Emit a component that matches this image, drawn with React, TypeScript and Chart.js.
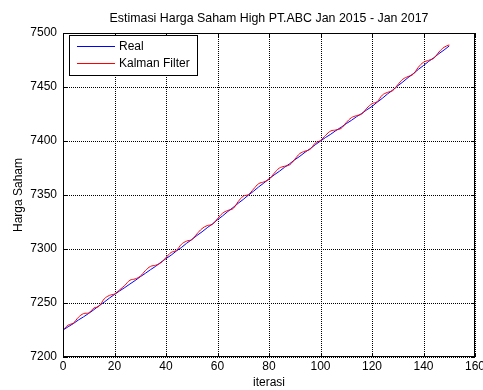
import React, { useEffect, useRef } from "react";
import { Chart, registerables } from "chart.js";

Chart.register(...registerables);

const chartTitle = "Estimasi Harga Saham High PT.ABC Jan 2015 - Jan 2017";
const xTitle = "iterasi";
const yTitle = "Harga Saham";
const seriesNames = ["Real", "Kalman Filter"];
const seriesColors = ["#0000ff", "#ff0000"];

const iterations = [
  0, 2, 4, 6, 8, 10, 12, 14, 16, 18, 20, 22, 24, 26, 28, 30, 32, 34, 36, 38,
  40, 42, 44, 46, 48, 50, 52, 54, 56, 58, 60, 62, 64, 66, 68, 70, 72, 74, 76, 78,
  80, 82, 84, 86, 88, 90, 92, 94, 96, 98, 100, 102, 104, 106, 108, 110, 112, 114, 116, 118,
  120, 122, 124, 126, 128, 130, 132, 134, 136, 138, 140, 142, 144, 146, 148, 150,
];

const realValues = [
  7225.0, 7228.0, 7230.9, 7234.3, 7237.2, 7240.4, 7243.8, 7247.5, 7250.8, 7254.5,
  7257.9, 7261.2, 7264.3, 7267.6, 7270.8, 7274.3, 7277.5, 7280.9, 7284.0, 7287.7,
  7291.1, 7294.3, 7298.1, 7301.4, 7305.3, 7308.7, 7312.5, 7315.9, 7319.7, 7323.2,
  7327.1, 7330.7, 7334.7, 7338.3, 7342.3, 7345.9, 7349.9, 7353.5, 7357.5, 7361.1,
  7365.0, 7368.6, 7371.9, 7375.6, 7378.9, 7382.6, 7385.9, 7389.6, 7392.9, 7396.6,
  7400.0, 7403.3, 7406.3, 7409.7, 7412.7, 7416.1, 7419.1, 7422.5, 7425.5, 7428.9,
  7432.0, 7435.9, 7439.5, 7443.5, 7447.1, 7451.1, 7454.7, 7458.7, 7462.3, 7466.3,
  7469.9, 7473.7, 7477.1, 7480.9, 7484.3, 7488.0,
];

const kalmanValues = [
  7225.0, 7229.5, 7231.4, 7236.8, 7240.2, 7240.9, 7245.3, 7247.0, 7253.8, 7257.0,
  7258.4, 7262.2, 7266.3, 7271.1, 7272.3, 7274.8, 7280.0, 7283.9, 7285.0, 7287.2,
  7292.1, 7296.8, 7298.6, 7304.4, 7307.3, 7308.7, 7314.0, 7318.9, 7321.7, 7322.7,
  7328.1, 7333.2, 7335.7, 7337.3, 7343.8, 7348.9, 7350.4, 7355.5, 7360.5, 7362.1,
  7364.5, 7370.1, 7374.9, 7376.6, 7377.9, 7383.1, 7388.4, 7390.6, 7392.4, 7398.1,
  7400.5, 7405.3, 7409.3, 7410.2, 7411.7, 7417.1, 7421.6, 7423.5, 7425.0, 7430.4,
  7434.5, 7436.4, 7442.5, 7445.0, 7446.6, 7452.1, 7457.2, 7459.7, 7461.8, 7468.3,
  7472.9, 7474.7, 7476.6, 7482.4, 7486.8, 7489.0,
];

const xMin = 0;
const xMax = 160;
const xStep = 20;
const yMin = 7200;
const yMax = 7500;
const yStep = 50;

const FONT = "'Liberation Sans', Arial, sans-serif";

const gridPlugin = {
  id: "matlabGrid",
  beforeDatasetsDraw(chart: any) {
    const ctx = chart.ctx;
    const { left, right, top, bottom } = chart.chartArea;
    const xs = chart.scales.x;
    const ys = chart.scales.y;
    ctx.save();
    ctx.strokeStyle = "#000";
    ctx.lineWidth = 1;
    ctx.setLineDash([1, 1]);
    ctx.lineDashOffset = 0;
    xs.ticks.forEach((t: any) => {
      const px = Math.round(xs.getPixelForValue(t.value)) + 0.5;
      ctx.beginPath();
      ctx.moveTo(px, Math.round(top));
      ctx.lineTo(px, Math.round(bottom));
      ctx.stroke();
    });
    ys.ticks.forEach((t: any) => {
      const py = Math.round(ys.getPixelForValue(t.value)) + 0.5;
      ctx.beginPath();
      ctx.moveTo(Math.round(left), py);
      ctx.lineTo(Math.round(right), py);
      ctx.stroke();
    });
    ctx.restore();
  },
};

const matlabPlugin = {
  id: "matlabDecor",
  afterDraw(chart: any) {
    const ctx = chart.ctx;
    const { left, right, top, bottom } = chart.chartArea;
    const xs = chart.scales.x;
    const ys = chart.scales.y;
    ctx.save();
    ctx.strokeStyle = "#000";
    ctx.lineWidth = 1;
    ctx.setLineDash([]);
    ctx.strokeRect(Math.round(left) + 0.5, Math.round(top) + 0.5, Math.round(right - left) - 1, Math.round(bottom - top) - 1);
    const tl = 4;
    ctx.beginPath();
    xs.ticks.forEach((t: any) => {
      const px = Math.round(xs.getPixelForValue(t.value)) + 0.5;
      ctx.moveTo(px, bottom);
      ctx.lineTo(px, bottom - tl);
      ctx.moveTo(px, top);
      ctx.lineTo(px, top + tl);
    });
    ys.ticks.forEach((t: any) => {
      const py = Math.round(ys.getPixelForValue(t.value)) + 0.5;
      ctx.moveTo(left, py);
      ctx.lineTo(left + tl, py);
      ctx.moveTo(right, py);
      ctx.lineTo(right - tl, py);
    });
    ctx.stroke();
    ctx.fillStyle = "#000";
    ctx.font = `12.4px ${FONT}`;
    ctx.textAlign = "center";
    ctx.textBaseline = "alphabetic";
    ctx.fillText(chartTitle, (left + right) / 2, 22);
    const lx = 69.5;
    const ly = 35.5;
    const lw = 128;
    const lh = 40;
    ctx.fillStyle = "#fff";
    ctx.fillRect(lx, ly, lw, lh);
    ctx.strokeStyle = "#000";
    ctx.strokeRect(lx, ly, lw, lh);
    ctx.font = `12px ${FONT}`;
    chart.data.datasets.forEach((ds: any, i: number) => {
      const y = 46.5 + i * 17;
      ctx.strokeStyle = ds.borderColor;
      ctx.beginPath();
      ctx.moveTo(77, y);
      ctx.lineTo(115, y);
      ctx.stroke();
      ctx.fillStyle = "#000";
      ctx.textAlign = "left";
      ctx.textBaseline = "middle";
      ctx.fillText(ds.label, 119, y);
    });
    ctx.restore();
  },
};

export default function App() {
  const canvasRef = useRef<HTMLCanvasElement | null>(null);

  useEffect(() => {
    const canvas = canvasRef.current;
    if (!canvas) return;
    const chart = new Chart(canvas, {
      type: "line",
      data: {
        datasets: [
          {
            label: seriesNames[0],
            data: iterations.map((x, i) => ({ x, y: realValues[i] })),
            borderColor: seriesColors[0],
            backgroundColor: seriesColors[0],
            borderWidth: 1,
            pointRadius: 0,
            tension: 0,
            order: 1,
          },
          {
            label: seriesNames[1],
            data: iterations.map((x, i) => ({ x, y: kalmanValues[i] })),
            borderColor: seriesColors[1],
            backgroundColor: seriesColors[1],
            borderWidth: 1,
            pointRadius: 0,
            tension: 0.4,
            order: 0,
          },
        ],
      },
      options: {
        responsive: false,
        animation: false,
        devicePixelRatio: 1,
        layout: { padding: { left: 0, right: 8, top: 33, bottom: 0 } },
        plugins: {
          legend: { display: false },
          title: { display: false },
          tooltip: { enabled: false },
        },
        scales: {
          x: {
            type: "linear",
            min: xMin,
            max: xMax,
            ticks: {
              stepSize: xStep,
              color: "#000",
              font: { family: FONT, size: 12 },
              padding: 2,
              maxRotation: 0,
              callback: (v: any) => String(v),
            },
            grid: { display: false, drawTicks: false },
            border: { display: false },
            title: {
              display: true,
              text: xTitle,
              color: "#000",
              font: { family: FONT, size: 12 },
              padding: { top: 0, bottom: 0 },
            },
            afterFit(scale: any) {
              scale.height = 33;
              scale.paddingLeft = 0;
              scale.paddingRight = 0;
            },
          },
          y: {
            type: "linear",
            min: yMin,
            max: yMax,
            ticks: {
              stepSize: yStep,
              color: "#000",
              font: { family: FONT, size: 12 },
              padding: 6,
              callback: (v: any) => String(v),
            },
            grid: { display: false, drawTicks: false },
            border: { display: false },
            title: {
              display: true,
              text: yTitle,
              color: "#000",
              font: { family: FONT, size: 12 },
              padding: { top: 11, bottom: 0 },
            },
            afterFit(scale: any) {
              scale.width = 63;
              scale.paddingTop = 0;
              scale.paddingBottom = 0;
            },
          },
        },
      },
      plugins: [gridPlugin, matlabPlugin],
    });
    return () => chart.destroy();
  }, []);

  return (
    <div style={{ position: "absolute", left: 0, top: 0, width: 483, height: 390, background: "#fff" }}>
      <canvas ref={canvasRef} width={483} height={390} style={{ width: 483, height: 390 }} />
    </div>
  );
}
